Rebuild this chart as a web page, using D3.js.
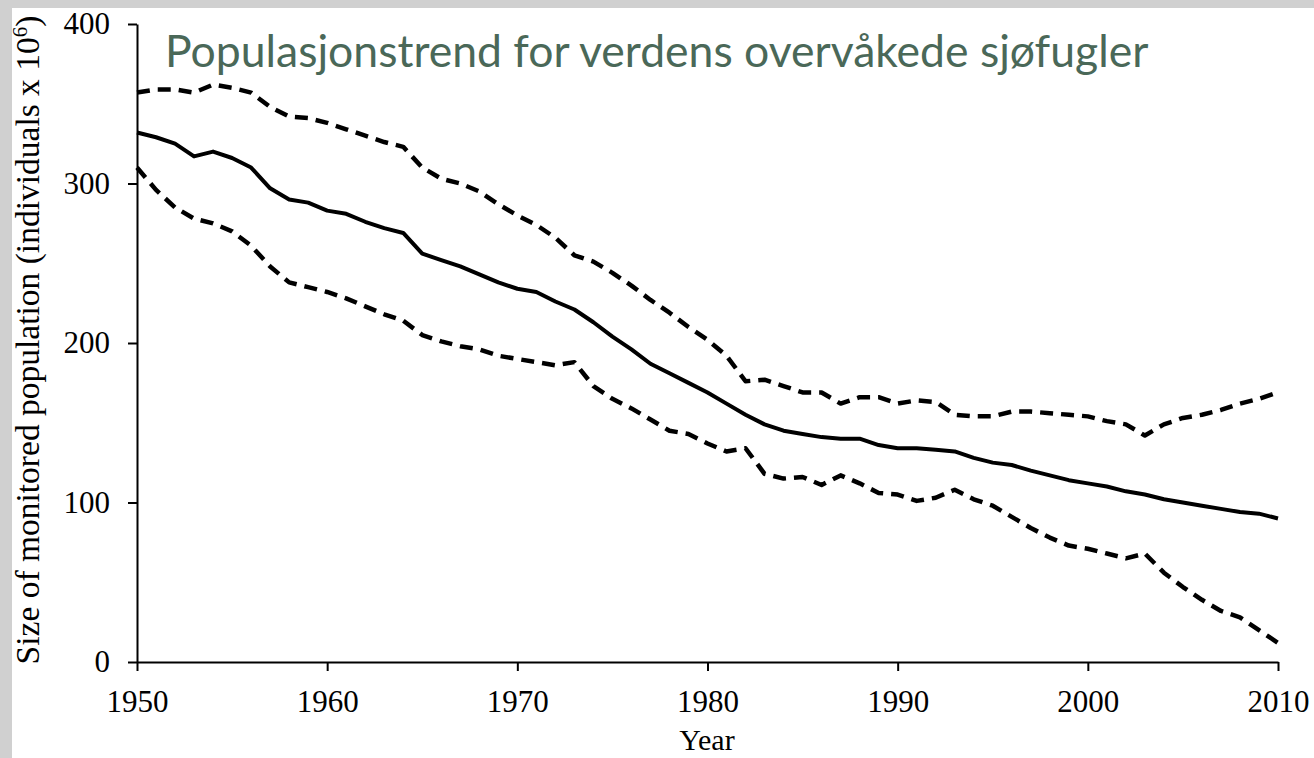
<!DOCTYPE html>
<meta charset="utf-8">
<style>
body { margin: 0; background: #d0d0d0; }
.line { fill: none; stroke: #000; stroke-linejoin: round; }
.mean { stroke-width: 4px; }
.ci { stroke-width: 4.5px; stroke-dasharray: 13 8; }
.axis path, .axis line { stroke: #000; stroke-width: 2px; }
.axis text { font-family: "Liberation Serif", serif; font-size: 31px; fill: #000; }
</style>
<body>
<script src="https://cdn.jsdelivr.net/npm/d3@7"></script>
<script>

// years 1950..2010
var years = d3.range(1950, 2011);

// middle estimate (individuals x 10^6)
var meanPop = [332, 329, 325, 317, 320, 316, 310, 297, 290, 288,
  283, 281, 276, 272, 269, 256, 252, 248, 243, 238,
  234, 232, 226, 221, 213, 204, 196, 187, 181, 175,
  169, 162, 155, 149, 145, 143, 141, 140, 140, 136,
  134, 134, 133, 132, 128, 125, 123.5, 120, 117, 114,
  112, 110, 107, 105, 102, 100, 98, 96, 94, 93, 90];

// upper bound
var upperPop = [357, 359, 359, 357, 362, 360, 357, 348, 342, 341,
  338, 334, 330, 326, 323, 310, 303, 300, 295, 287,
  280, 274, 266, 255, 251, 244, 236, 227, 219, 210,
  202, 192, 176, 177, 173, 169, 169, 162, 166, 166,
  162, 164, 163, 155, 154, 154, 157, 157, 156, 155,
  154, 151, 149, 142, 149, 153, 155, 158, 162, 165, 169];

// lower bound
var lowerPop = [310, 296, 285, 278, 275, 270, 261, 248, 238, 235,
  232, 228, 223, 218, 214, 205, 201, 198, 196, 192,
  190, 188, 186, 188, 173, 165, 159, 152, 145, 143,
  137, 132, 134, 118, 115, 116, 111, 117, 112, 106,
  105, 101, 103, 108, 102, 98, 91, 84, 78, 73,
  71, 68, 65, 68, 56, 47, 39, 32, 28, 20, 12];

var xTicks = [1950, 1960, 1970, 1980, 1990, 2000, 2010];
var yTicks = [0, 100, 200, 300, 400];

var titleText = "Populasjonstrend for verdens overvåkede sjøfugler";
var yLabel = "Size of monitored population (individuals x 10";
var xLabel = "Year";

var W = 1314, H = 758;
var margin = {top: 24, right: 36, bottom: 96, left: 137};
var width = W - margin.left - margin.right,
    height = H - margin.top - margin.bottom;

var svg = d3.select("body").append("svg")
    .attr("width", W)
    .attr("height", H)
    .style("display", "block");

// slide-like background: grey frame, white page
svg.append("rect")
    .attr("width", W).attr("height", H).attr("fill", "#d0d0d0");
svg.append("rect")
    .attr("x", 12).attr("y", 8)
    .attr("width", W - 12).attr("height", H - 8)
    .attr("fill", "#fff");

var g = svg.append("g")
    .attr("transform", "translate(" + margin.left + "," + margin.top + ")");

var x = d3.scaleLinear().domain([1950, 2010]).range([0, width]);
var y = d3.scaleLinear().domain([0, 400]).range([height, 0]);

var line = d3.line()
    .x(function(d) { return x(d[0]); })
    .y(function(d) { return y(d[1]); });

function pairs(vals) {
  return years.map(function(yr, i) { return [yr, vals[i]]; });
}

g.append("path").attr("class", "line ci").attr("d", line(pairs(upperPop)));
g.append("path").attr("class", "line ci").attr("d", line(pairs(lowerPop)));
g.append("path").attr("class", "line mean").attr("d", line(pairs(meanPop)));

// x axis
g.append("g")
    .attr("class", "axis")
    .attr("transform", "translate(0," + height + ")")
    .call(d3.axisBottom(x).tickValues(xTicks).tickFormat(d3.format("d"))
      .tickSizeInner(9).tickSizeOuter(0).tickPadding(19));

// y axis
g.append("g")
    .attr("class", "axis")
    .call(d3.axisLeft(y).tickValues(yTicks)
      .tickSizeInner(9).tickSizeOuter(0).tickPadding(18));

// axis titles
svg.append("text")
    .attr("x", 707).attr("y", 750)
    .attr("text-anchor", "middle")
    .style("font-family", "Liberation Serif, serif")
    .style("font-size", "30px")
    .text(xLabel);

var yl = svg.append("text")
    .attr("transform", "translate(39,340) rotate(-90)")
    .attr("text-anchor", "middle")
    .style("font-family", "Liberation Serif, serif")
    .style("font-size", "33.5px");
yl.append("tspan").text(yLabel);
yl.append("tspan").attr("dy", -12).style("font-size", "21px").text("6");
yl.append("tspan").attr("dy", 12).text(")");

// title
svg.append("text")
    .attr("x", 165).attr("y", 67)
    .style("font-family", "Lato, sans-serif")
    .style("font-size", "44.5px")
    .attr("fill", "#4a6858")
    .text(titleText);

</script>
</body>
